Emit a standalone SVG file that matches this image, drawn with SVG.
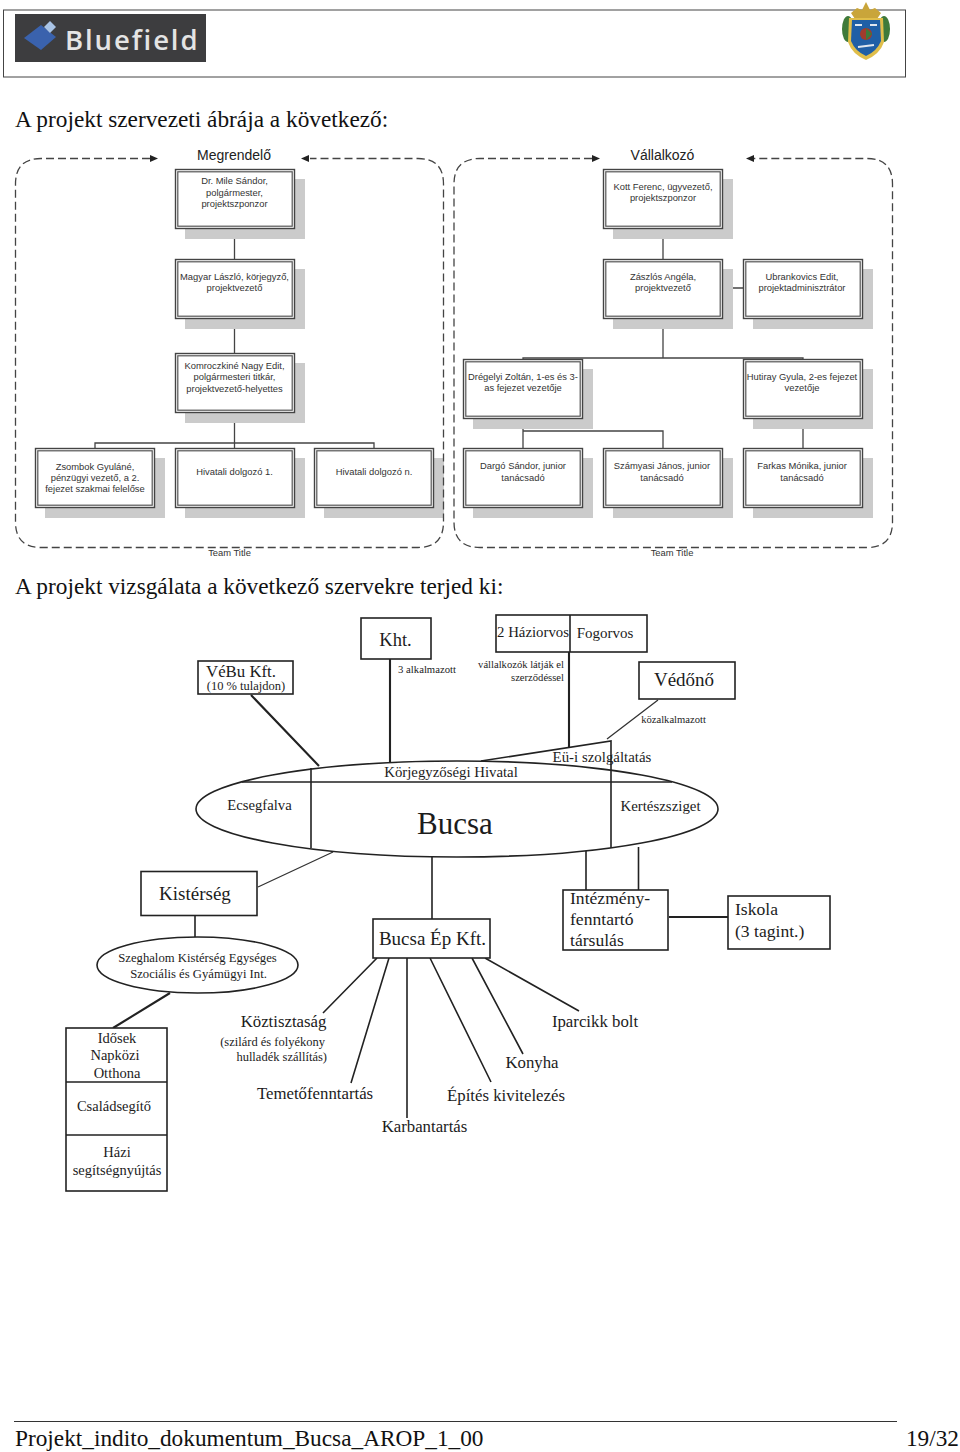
<svg xmlns="http://www.w3.org/2000/svg" width="960" height="1452" viewBox="0 0 960 1452">
<style>
text{font-family:"Liberation Serif",serif;fill:#1c1c1c}
.h{font-size:23.300px;fill:#111}
.o{font-family:"Liberation Sans",sans-serif;font-size:9.400px;text-anchor:middle;fill:#333}
.t{font-family:"Liberation Sans",sans-serif;font-size:14px;text-anchor:middle;fill:#222}
.tt{font-family:"Liberation Sans",sans-serif;font-size:9.400px;text-anchor:middle;fill:#333}
.s{fill:#cbcbcb}
.b{fill:#fff;stroke:#444;stroke-width:1.400}
.i{fill:none;stroke:#555;stroke-width:1.200}
.d{fill:none;stroke:#444;stroke-width:1.300;stroke-dasharray:8 4}
.l{fill:none;stroke:#444;stroke-width:1.300}
.k{fill:none;stroke:#222;stroke-width:1.600}
.kt{fill:none;stroke:#222;stroke-width:2.100}
.kn{fill:none;stroke:#333;stroke-width:1.300}
.kb{fill:#fff;stroke:#222;stroke-width:1.600}
.c{text-anchor:middle}
.m{font-size:16.800px}
</style>
<defs>
<g id="card"><rect class="s" x="10" y="10" width="120" height="60"/><rect class="b" x="0.500" y="0.500" width="119" height="59"/><rect class="i" x="2.800" y="2.800" width="114.400" height="54.400"/></g>
</defs>

<g id="header">
<rect x="3.500" y="10" width="902" height="67" fill="none" stroke="#444" stroke-width="1"/>
<g id="logo-bluefield">
<rect x="15" y="14" width="191" height="48" fill="#3d3d3f"/>
<polygon points="41,25 56,37 41,50 24,38" fill="#3a62ad"/>
<polygon points="50,21 56,27 50,33 44,27" fill="#a9c4e6"/>
<text x="65" y="50" font-size="27.500" font-weight="600" letter-spacing="1.900" style="font-family:'Open Sans',sans-serif;fill:#e4e4e4">Bluefield</text>
</g>
<g id="logo-crest">
<ellipse cx="848" cy="29" rx="6" ry="13" fill="#3f7a3a"/>
<ellipse cx="884" cy="29" rx="6" ry="13" fill="#3f7a3a"/>
<path d="M851 13 L857 8 L862 10 L866 2 L870 10 L875 8 L881 13 L877 19 L855 19Z" fill="#c9a53a"/>
<path d="M849 18 L883 18 L884 42 Q880 54 866 60 Q852 54 848 42Z" fill="#e0be4a"/>
<path d="M852 20 L880 20 L881 41 Q877 51 866 56 Q855 51 851 41Z" fill="#1f5fa6"/>
<circle cx="866" cy="34" r="6" fill="#a23b2d"/>
<path d="M866 28 L872 34 L866 40Z" fill="#3f7a3a"/>
<path d="M855 25 L862 25 M870 25 L877 25 M858 47 L874 45" stroke="#dfe6ee" stroke-width="2" fill="none"/>
</g>
</g>

<text class="h" x="15" y="127">A projekt szervezeti ábrája a következő:</text>
<text class="h" x="15" y="594">A projekt vizsgálata a következő szervekre terjed ki:</text>

<g id="connectors-org">
<path class="l" d="M234.500 228V259M234.500 319V353M234.500 413V448M95 448V443H374V448"/>
<path class="l" d="M663 228V259M663 319V358M723 288H743M523 359V358H803V359M523 418V448M523 431H663V448M803 418V448"/>
</g>

<g id="org-dr-mile"><use href="#card" x="175" y="169"/><text class="o"><tspan x="234.500" y="184">Dr. Mile Sándor,</tspan><tspan x="234.500" y="196">polgármester,</tspan><tspan x="234.500" y="207">projektszponzor</tspan></text></g>
<g id="org-magyar"><use href="#card" x="175" y="259"/><text class="o"><tspan x="234.500" y="280">Magyar László, körjegyző,</tspan><tspan x="234.500" y="291">projektvezető</tspan></text></g>
<g id="org-komroczki"><use href="#card" x="175" y="353"/><text class="o"><tspan x="234.500" y="369">Komroczkiné Nagy Edit,</tspan><tspan x="234.500" y="380">polgármesteri titkár,</tspan><tspan x="234.500" y="392">projektvezető-helyettes</tspan></text></g>
<g id="org-zsombok"><use href="#card" x="35" y="448"/><text class="o"><tspan x="95" y="470">Zsombok Gyuláné,</tspan><tspan x="95" y="481">pénzügyi vezető, a 2.</tspan><tspan x="95" y="492">fejezet szakmai felelőse</tspan></text></g>
<g id="org-hivatali-1"><use href="#card" x="175" y="448"/><text class="o" x="234.500" y="475">Hivatali dolgozó 1.</text></g>
<g id="org-hivatali-n"><use href="#card" x="314" y="448"/><text class="o" x="374" y="475">Hivatali dolgozó n.</text></g>
<g id="org-kott"><use href="#card" x="603" y="169"/><text class="o"><tspan x="663" y="190">Kott Ferenc, ügyvezető,</tspan><tspan x="663" y="201">projektszponzor</tspan></text></g>
<g id="org-zaszlos"><use href="#card" x="603" y="259"/><text class="o"><tspan x="663" y="280">Zászlós Angéla,</tspan><tspan x="663" y="291">projektvezető</tspan></text></g>
<g id="org-ubrankovics"><use href="#card" x="743" y="259"/><text class="o"><tspan x="802" y="280">Ubrankovics Edit,</tspan><tspan x="802" y="291">projektadminisztrátor</tspan></text></g>
<g id="org-dregelyi"><use href="#card" x="463" y="359"/><text class="o"><tspan x="523" y="380">Drégelyi Zoltán, 1-es és 3-</tspan><tspan x="523" y="391">as fejezet vezetője</tspan></text></g>
<g id="org-hutiray"><use href="#card" x="743" y="359"/><text class="o"><tspan x="802" y="380">Hutiray Gyula, 2-es fejezet</tspan><tspan x="802" y="391">vezetője</tspan></text></g>
<g id="org-dargo"><use href="#card" x="463" y="448"/><text class="o"><tspan x="523" y="469">Dargó Sándor, junior</tspan><tspan x="523" y="481">tanácsadó</tspan></text></g>
<g id="org-szamyasi"><use href="#card" x="603" y="448"/><text class="o"><tspan x="662" y="469">Számyasi János, junior</tspan><tspan x="662" y="481">tanácsadó</tspan></text></g>
<g id="org-farkas"><use href="#card" x="743" y="448"/><text class="o"><tspan x="802" y="469">Farkas Mónika, junior</tspan><tspan x="802" y="481">tanácsadó</tspan></text></g>

<g id="team-frames">
<path class="d" d="M150 158.500H41Q15.500 158.500 15.500 184V522Q15.500 547.500 41 547.500H418Q443.500 547.500 443.500 522V184Q443.500 158.500 418 158.500H310"/>
<path class="d" d="M592 158.500H480Q454 158.500 454 184V522Q454 547.500 480 547.500H867Q892.500 547.500 892.500 522V184Q892.500 158.500 867 158.500H754"/>
<polygon points="158,158.500 150,155 150,162" fill="#222"/>
<polygon points="301,158.500 309,155 309,162" fill="#222"/>
<polygon points="600,158.500 592,155 592,162" fill="#222"/>
<polygon points="746,158.500 754,155 754,162" fill="#222"/>
</g>

<text class="t" x="234" y="160">Megrendelő</text>
<text class="t" x="662.500" y="160">Vállalkozó</text>
<text class="tt" x="229.500" y="556">Team Title</text>
<text class="tt" x="672" y="556">Team Title</text>

<g id="connectors-bucsa">
<path class="kt" d="M251 695L319 766M390 659V763M569 650V748"/>
<path class="k" d="M481 761L611 741V848M311 768V848M242 782H672M432 857V919M586 851V890M638.500 847V890M195 915V937"/>
<path class="kt" d="M669 917H728M170 993L113 1028"/>
<path class="kn" d="M658 700L607 739M333 852L258 887"/>
<path class="k" d="M377 958L323 1013M389 958L351 1083M407 958V1118M430 958L491 1082M472 958L523 1054M485 958L579 1011"/>
</g>

<g id="node-bucsa">
<ellipse class="k" cx="457" cy="809" rx="261" ry="48"/>
<text x="455" y="834" font-size="31" class="c">Bucsa</text>
<text x="451" y="777" font-size="14.800" class="c">Körjegyzőségi Hivatal</text>
<text x="259.500" y="810" font-size="14.700" class="c">Ecsegfalva</text>
<text x="660.500" y="811" font-size="14.900" class="c">Kertészsziget</text>
<text x="602" y="762" font-size="14.900" class="c">Eü-i szolgáltatás</text>
</g>
<g id="node-vebu"><rect class="kb" x="198" y="661" width="95" height="33"/><text x="241" y="677" font-size="16.800" class="c">VéBu Kft.</text><text x="246" y="690" font-size="12.500" class="c">(10 % tulajdon)</text></g>
<g id="node-kht"><rect class="kb" x="361" y="618" width="70" height="41"/><text x="395.500" y="646" font-size="18.500" class="c">Kht.</text></g>
<text x="427" y="673" font-size="10.700" class="c">3 alkalmazott</text>
<g id="node-haziorvos"><rect class="kb" x="496" y="615" width="151" height="37"/><path class="k" d="M570 615V652"/><text x="533" y="637" font-size="14.800" class="c">2 Háziorvos</text><text x="605" y="638" font-size="15" class="c">Fogorvos</text></g>
<text font-size="10.600" text-anchor="end"><tspan x="564" y="668">vállalkozók látják el</tspan><tspan x="564" y="681">szerződéssel</tspan></text>
<g id="node-vedono"><rect class="kb" x="639" y="662" width="96" height="37"/><text x="684" y="686" font-size="19" class="c">Védőnő</text></g>
<text x="673.500" y="723" font-size="10.600" class="c">közalkalmazott</text>
<g id="node-kisterseg"><rect class="kb" x="141" y="871.500" width="116" height="44"/><text x="195" y="900" font-size="19" class="c">Kistérség</text></g>
<g id="node-szeghalom"><ellipse class="kb" cx="197.500" cy="965" rx="100.500" ry="28"/><text font-size="12.700" class="c"><tspan x="197.500" y="962">Szeghalom Kistérség Egységes</tspan><tspan x="198.500" y="978">Szociális és Gyámügyi Int.</tspan></text></g>
<g id="node-idosek"><rect class="kb" x="66" y="1028" width="101" height="163"/><path class="k" d="M66 1082H167M66 1135H167"/><text font-size="14.500" class="c"><tspan x="117" y="1043">Idősek</tspan><tspan x="115" y="1060">Napközi</tspan><tspan x="117" y="1078">Otthona</tspan><tspan x="114" y="1111">Családsegítő</tspan><tspan x="117" y="1157">Házi</tspan><tspan x="117" y="1175">segítségnyújtás</tspan></text></g>
<g id="node-bucsa-ep"><rect class="kb" x="373" y="919" width="117" height="39"/><text x="432.500" y="945" font-size="19" class="c">Bucsa Ép Kft.</text></g>
<g id="node-intezmeny"><rect class="kb" x="563" y="890" width="105" height="60"/><text font-size="17.600"><tspan x="570" y="904">Intézmény-</tspan><tspan x="570" y="925">fenntartó</tspan><tspan x="570" y="946">társulás</tspan></text></g>
<g id="node-iskola"><rect class="kb" x="728" y="896" width="102" height="53"/><text font-size="17.600"><tspan x="735" y="915">Iskola</tspan><tspan x="735" y="937">(3 tagint.)</tspan></text></g>
<text x="283.500" y="1027" class="c m">Köztisztaság</text>
<text font-size="12.500" text-anchor="end"><tspan x="325" y="1046">(szilárd és folyékony</tspan><tspan x="327" y="1061">hulladék szállítás)</tspan></text>
<text x="315" y="1099" class="c m">Temetőfenntartás</text>
<text x="424.500" y="1132" class="c m">Karbantartás</text>
<text x="506" y="1101" class="c m">Építés kivitelezés</text>
<text x="532" y="1068" class="c m">Konyha</text>
<text x="595" y="1027" class="c m">Iparcikk bolt</text>

<g id="footer">
<path d="M14 1421.500H897" stroke="#333" stroke-width="1"/>
<text class="h" x="15" y="1446">Projekt_indito_dokumentum_Bucsa_AROP_1_00</text>
<text class="h" x="959" y="1446" text-anchor="end">19/32</text>
</g>
</svg>
